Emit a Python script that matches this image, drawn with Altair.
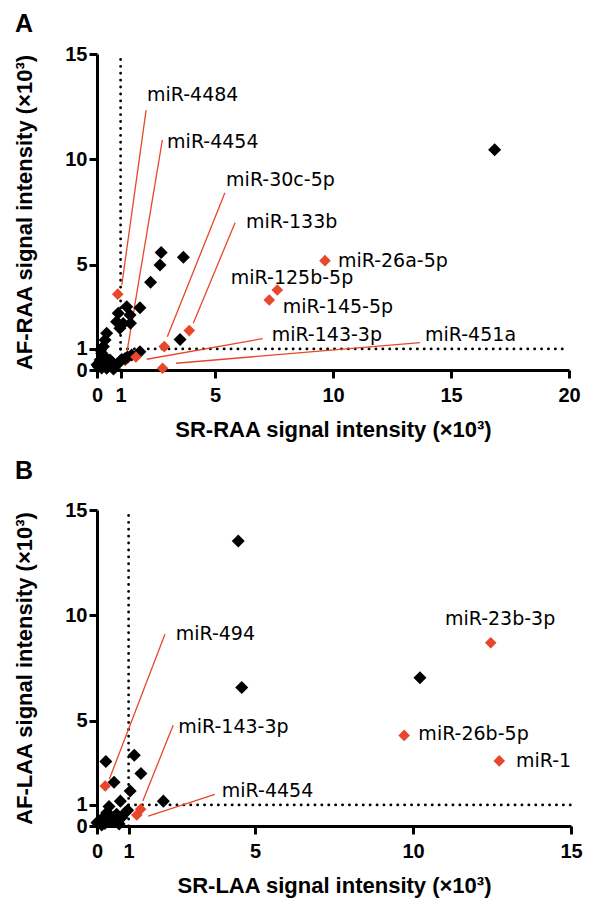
import altair as alt
import pandas as pd

RED = "#E8472B"

# ---------------- Panel A data ----------------
A_black_x = [16.85, 2.72, 2.67, 3.66, 2.27, 1.82, 1.26, 0.90, 1.40, 0.83, 1.11, 1.42, 0.97,
             0.41, 0.34, 0.27, 0.20, 0.13, 0.06, 0.55, 0.83, 0.41, 1.19, 1.47, 1.82, 3.52,
             0.97, 0.30, 0.20, 0.50, 0.65, 0.00, 0.35, 0.15, 1.05, 0.70, 1.30, 0.45]
A_black_y = [10.45, 5.58, 4.98, 5.35, 4.17, 2.95, 3.00, 2.69, 2.61, 2.29, 2.21, 2.22, 1.98,
             1.74, 1.42, 1.11, 0.79, 0.47, 0.16, 0.47, 0.24, 0.08, 0.55, 0.71, 0.87, 1.45,
             0.40, 0.30, 0.10, 0.20, 0.35, 0.25, 0.60, 0.95, 0.50, 0.05, 0.62, 0.40]
A_hidden_names = ["miR-4454"]
A_hidden_x = [1.20]
A_hidden_y = [0.45]
A_red_names = ["miR-4484", "miR-30c-5p", "miR-133b", "miR-143-3p", "miR-451a",
               "miR-26a-5p", "miR-125b-5p", "miR-145-5p"]
A_red_x = [0.88, 2.85, 3.91, 1.65, 2.78, 9.66, 7.64, 7.30]
A_red_y = [3.60, 1.11, 1.87, 0.62, 0.08, 5.19, 3.80, 3.32]
A_lbl_text = ["miR-4484", "miR-4454", "miR-30c-5p", "miR-133b", "miR-143-3p", "miR-451a",
              "miR-26a-5p", "miR-125b-5p", "miR-145-5p"]
A_lbl_x = [2.12, 2.97, 5.47, 6.31, 7.40, 13.90, 10.21, 5.67, 7.87]
A_lbl_y = [13.05, 10.84, 9.02, 7.04, 1.66, 1.66, 5.19, 4.35, 3.00]
A_lead_x1 = [1.05, 1.22, 2.98, 4.08, 2.11, 3.35]
A_lead_y1 = [4.03, 0.52, 1.58, 2.22, 0.51, 0.32]
A_lead_x2 = [2.08, 2.77, 5.42, 5.85, 7.02, 13.69]
A_lead_y2 = [12.34, 10.92, 8.41, 6.99, 1.49, 1.30]
A_xticks = [0, 1, 5, 10, 15, 20]

# ---------------- Panel B data ----------------
B_black_x = [4.47, 4.58, 10.22, 0.28, 1.18, 1.39, 0.54, 1.05, 0.74, 2.10, 0.38, 0.31, 0.20,
             0.09, 0.00, 0.62, 0.78, 0.57, 0.89, 0.97, 0.41, 0.25, 0.70, 0.45, 0.15]
B_black_y = [13.53, 6.57, 7.04, 3.06, 3.36, 2.49, 2.08, 1.66, 1.18, 1.18, 0.92, 0.63, 0.40,
             0.24, 0.16, 0.56, 0.40, 0.24, 0.63, 0.75, 0.24, 0.12, 0.10, 0.45, 0.05]
B_hidden_names = []
B_hidden_x = []
B_hidden_y = []
B_red_names = ["miR-494", "miR-143-3p", "miR-4454", "miR-23b-3p", "miR-26b-5p", "miR-1"]
B_red_x = [0.26, 1.38, 1.26, 12.46, 9.72, 12.73]
B_red_y = [1.90, 0.80, 0.52, 8.70, 4.30, 3.09]
B_lbl_text = ["miR-494", "miR-143-3p", "miR-4454", "miR-23b-3p", "miR-26b-5p", "miR-1"]
B_lbl_x = [2.49, 2.57, 3.95, 11.01, 10.17, 13.26]
B_lbl_y = [9.10, 4.72, 1.66, 9.84, 4.35, 3.08]
B_lead_x1 = [0.39, 1.45, 1.62]
B_lead_y1 = [2.22, 1.19, 0.47]
B_lead_x2 = [2.15, 2.41, 3.73]
B_lead_y2 = [9.10, 4.78, 1.50]
B_xticks = [0, 1, 5, 10, 15]

Y_MAX = 15
Y_TICKS = [0, 1, 5, 10, 15]


def panel(letter, letter_y, letter_base, xmax, xticks, xtitle, ytitle, width, height,
          bx, by, hn, hx, hy, rn, rx, ry, lt, lx, ly, l1x, l1y, l2x, l2y):
    xs = alt.Scale(domain=[0, xmax], nice=False, zero=True)
    ys = alt.Scale(domain=[0, Y_MAX], nice=False, zero=True)

    xaxis = alt.Axis(values=xticks, title=xtitle, grid=False, labelOverlap=False,
                     labelFlush=False, titleX=width / 2, titleY=59,
                     titleBaseline="middle", titleAlign="center", labelPadding=7)
    yaxis = alt.Axis(values=Y_TICKS, title=ytitle, grid=False, labelOverlap=False,
                     labelFlush=False, titleX=-73, titleY=height / 2,
                     titleBaseline="middle", titleAlign="center", titleAngle=-90,
                     labelPadding=2)

    def X(field="x"):
        return alt.X(f"{field}:Q", scale=xs, axis=xaxis, title=xtitle)

    def Y(field="y"):
        return alt.Y(f"{field}:Q", scale=ys, axis=yaxis, title=ytitle)

    dots = pd.DataFrame({"x": [1, 1], "y": [0, 1], "x2": [1, xmax], "y2": [Y_MAX, 1]})
    dotted = alt.Chart(dots).mark_rule(
        color="black", strokeWidth=2.8, strokeDash=[0.1, 6.8], strokeCap="round"
    ).encode(x=X(), y=Y(), x2="x2:Q", y2="y2:Q")

    leads = pd.DataFrame({"x": l1x, "y": l1y, "x2": l2x, "y2": l2y})
    leaders = alt.Chart(leads).mark_rule(color=RED, strokeWidth=1.3).encode(
        x=X(), y=Y(), x2="x2:Q", y2="y2:Q")

    layers = [dotted, leaders]

    if len(hx):
        hid = pd.DataFrame({"name": hn, "x": hx, "y": hy})
        layers.append(alt.Chart(hid).mark_point(
            shape="diamond", filled=True, size=135, color=RED, opacity=1
        ).encode(x=X(), y=Y()))

    blk = pd.DataFrame({"x": bx, "y": by})
    layers.append(alt.Chart(blk).mark_point(
        shape="diamond", filled=True, size=170, color="black", opacity=1
    ).encode(x=X(), y=Y()))

    red = pd.DataFrame({"name": rn, "x": rx, "y": ry})
    layers.append(alt.Chart(red).mark_point(
        shape="diamond", filled=True, size=135, color=RED, opacity=1
    ).encode(x=X(), y=Y()))

    lbl = pd.DataFrame({"t": lt, "x": lx, "y": ly})
    layers.append(alt.Chart(lbl).mark_text(
        align="left", baseline="middle", font="DejaVu Sans", fontSize=19, color="black"
    ).encode(x=X(), y=Y(), text="t:N"))

    let = pd.DataFrame({"t": [letter]})
    layers.append(alt.Chart(let).mark_text(
        align="left", baseline=letter_base, font="Liberation Sans", fontSize=25,
        fontWeight="bold", color="black"
    ).encode(x=alt.value(-82), y=alt.value(letter_y), text="t:N"))

    return alt.layer(*layers).properties(width=width, height=height)


panel_a = panel("A", -42, "top", 20, A_xticks, "SR-RAA signal intensity (×10³)",
                "AF-RAA signal intensity (×10³)", 472, 316,
                A_black_x, A_black_y, A_hidden_names, A_hidden_x, A_hidden_y,
                A_red_names, A_red_x, A_red_y, A_lbl_text, A_lbl_x, A_lbl_y,
                A_lead_x1, A_lead_y1, A_lead_x2, A_lead_y2)
panel_b = panel("B", -31, "alphabetic", 15, B_xticks, "SR-LAA signal intensity (×10³)",
                "AF-LAA signal intensity (×10³)", 474, 316,
                B_black_x, B_black_y, B_hidden_names, B_hidden_x, B_hidden_y,
                B_red_names, B_red_x, B_red_y, B_lbl_text, B_lbl_x, B_lbl_y,
                B_lead_x1, B_lead_y1, B_lead_x2, B_lead_y2)

chart = alt.vconcat(panel_a, panel_b, spacing=19).resolve_scale(
    x="independent", y="independent"
).properties(
    padding={"left": 5, "top": 4, "right": 5, "bottom": 5}
).configure_view(stroke=None).configure_axis(
    domainColor="black", domainWidth=3, tickColor="black", tickWidth=3, tickSize=8,
    labelFont="Liberation Sans", labelFontWeight="bold", labelFontSize=20,
    labelColor="black", titleFont="Liberation Sans", titleFontWeight="bold",
    titleFontSize=22, titleColor="black", grid=False
)

chart.save("out.html", embed_options={"renderer": "svg", "actions": False})
